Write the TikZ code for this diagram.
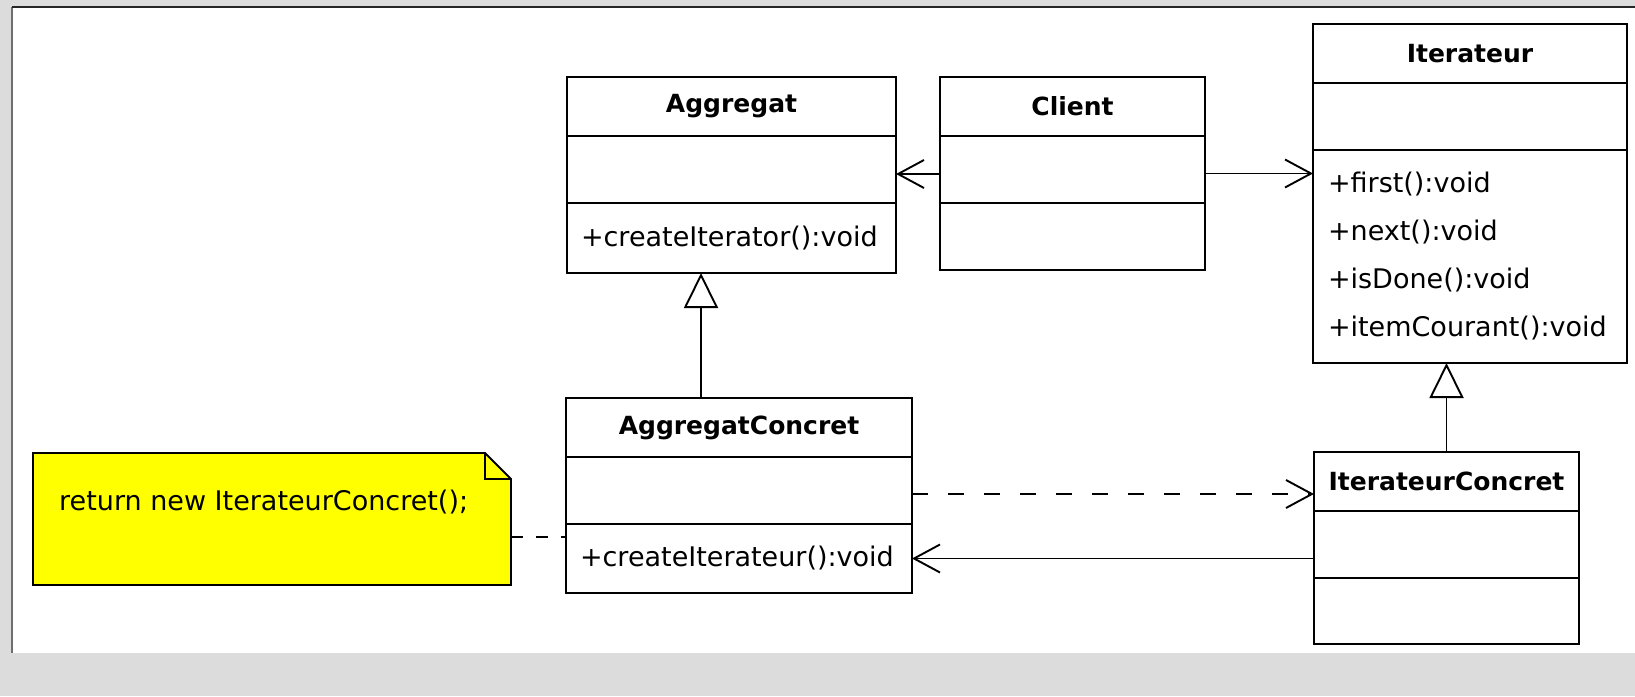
\documentclass[tikz,border=0pt]{standalone}
\usepackage{fontspec}
\setmainfont{DejaVu Sans}
\usepackage{tikz}
\usetikzlibrary{positioning, arrows.meta, calc}
\definecolor{canvas}{RGB}{220,220,220}
\definecolor{notefill}{RGB}{255,255,0}
\definecolor{frameline}{RGB}{110,110,110}

\begin{document}
\begin{tikzpicture}[
			x=1pt, y=-1pt,
			every node/.style={font=\fontsize{27}{48}\selectfont},
			classtitle/.style={rectangle, draw, line width=1.9pt, outer sep=0pt, inner sep=0pt, minimum height=59pt, font=\bfseries\fontsize{25}{30}\selectfont},
			classpart/.style={rectangle, draw, line width=1.9pt, outer sep=0pt, inner ysep=0pt, inner xsep=14pt, align=left},
			notebox/.style={rectangle, outer sep=0pt, inner sep=0pt},
			assoc/.style={line width=1.9pt, -{Straight Barb[length=26pt, width=28pt]}},
			depend/.style={assoc, dash pattern=on 16pt off 20pt},
			inherit/.style={line width=1.9pt, -{Triangle[open, length=35pt, width=34pt]}},
			notelink/.style={line width=1.9pt, dash pattern=on 12pt off 13pt}
			]
			\useasboundingbox (0,0) rectangle (1635,696);
			\fill[canvas] (0,0) rectangle (1635,696);
			\fill[white] (12,7) rectangle (1635,653);
			\draw[frameline, line width=1.5pt] (12,653) -- (12,7);
			\draw[black!85, line width=1.5pt] (12,7) -- (1635,7);
			
			% Aggregat
			\node[classtitle, minimum width=329pt, anchor=north west] (aggT) at (567,77) {Aggregat};
			\node[classpart, minimum width=329pt, minimum height=67pt, below=0pt of aggT] (aggA) {};
			\node[classpart, text width=301pt, minimum height=70pt, below=0pt of aggA] (aggM) {+createIterator():void};
			
			% Client
			\node[classtitle, minimum width=265pt, anchor=north west] (cliT) at (940,77) {Client};
			\node[classpart, minimum width=265pt, minimum height=67pt, below=0pt of cliT] (cliA) {};
			\node[classpart, minimum width=265pt, minimum height=67pt, below=0pt of cliA] (cliM) {};
			
			% Iterateur
			\node[classtitle, minimum width=314pt, anchor=north west] (itT) at (1313,24) {Iterateur};
			\node[classpart, minimum width=314pt, minimum height=67pt, below=0pt of itT] (itA) {};
			\node[classpart, inner xsep=15pt, text width=284pt, minimum height=213pt, below=0pt of itA] (itM) {+first():void\\+next():void\\+isDone():void\\+itemCourant():void};
			
			% AggregatConcret
			\node[classtitle, minimum width=346pt, anchor=north west] (acT) at (566,398) {AggregatConcret};
			\node[classpart, minimum width=346pt, minimum height=67pt, below=0pt of acT] (acA) {};
			\node[classpart, text width=318pt, minimum height=69pt, below=0pt of acA] (acM) {+createIterateur():void};
			
			% IterateurConcret
			\node[classtitle, minimum width=265pt, anchor=north west] (icT) at (1314,452) {IterateurConcret};
			\node[classpart, minimum width=265pt, minimum height=67pt, below=0pt of icT] (icA) {};
			\node[classpart, minimum width=265pt, minimum height=66pt, below=0pt of icA] (icM) {};
			
			% Note
			\node[notebox, minimum width=478pt, minimum height=132pt, anchor=north west] (note) at (33,453) {};
			\draw[fill=notefill, line width=1.9pt] (note.north west) -- ([xshift=-26pt]note.north east) -- ([yshift=-26pt]note.north east) -- (note.south east) -- (note.south west) -- cycle;
			\draw[line width=1.9pt] ([xshift=-26pt]note.north east) |- ([yshift=-26pt]note.north east);
			\node[anchor=west, inner sep=0pt] (noteText) at ([xshift=26pt, yshift=17pt]note.west) {return new IterateurConcret();};
			
			% Arrows
			\draw[assoc] ([yshift=-4.5pt]cliA.west) -- ([yshift=-4.5pt]cliA.west -| aggA.east);
			\draw[assoc] ([yshift=-4pt]cliA.east) -- ([yshift=-4pt]cliA.east -| itM.west);
			\draw[depend] ([yshift=-3.5pt]acA.east) -- ([yshift=-3.5pt]acA.east -| icT.west);
			\draw[assoc] (acM.east -| icA.west) -- (acM.east);
			\draw[inherit] ([xshift=-38pt]acT.north) -- ([xshift=-38pt]acT.north |- aggM.south);
			\draw[inherit] (icT.north) -- (icT.north |- itM.south);
			\draw[notelink] ([yshift=-18pt]note.east) -- ([yshift=-18pt]note.east -| acM.west);
			
		\end{tikzpicture}
\end{document}
